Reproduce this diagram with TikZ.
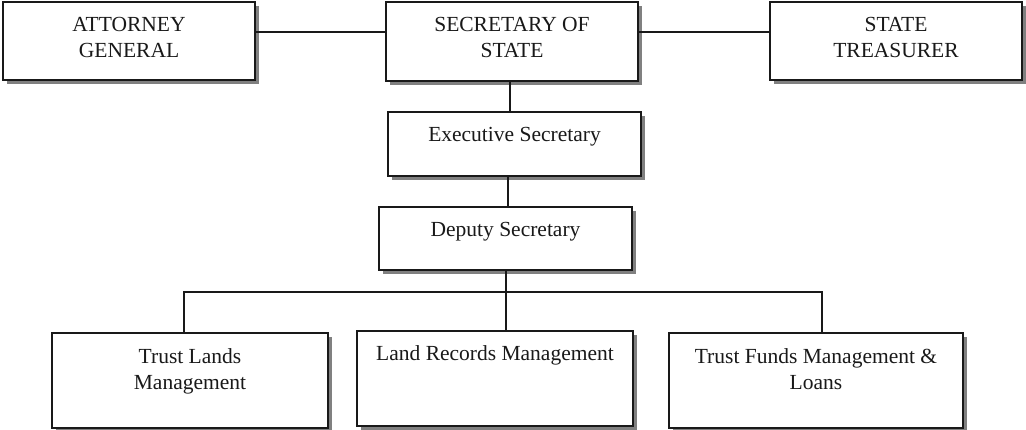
\documentclass[tikz,border=0pt]{standalone}
\usepackage{fontspec}
\setmainfont{Liberation Serif}
\usetikzlibrary{shadows,calc}
\begin{document}
\begin{tikzpicture}[x=1pt,y=-1pt,
  box/.style={draw=black!90, line width=1.7pt, fill=white, inner sep=0pt,
    drop shadow={shadow xshift=3.5pt, shadow yshift=-3.5pt, fill=black!50, opacity=1}},
  lbl/.style={anchor=north, inner sep=0pt, align=center, text=black!90,
    font=\fontsize{21.5}{26}\selectfont, yshift=-16pt},
  link/.style={draw=black!90, line width=1.6pt}]
\useasboundingbox (0,0) rectangle (1026,429);
% top row
\node[box, minimum width=252pt, minimum height=78pt] (ag) at (129,41) {};
\node[box, minimum width=252pt, minimum height=79pt] (sos) at (512,41.5) {};
\node[box, minimum width=252pt, minimum height=78pt] (st) at (896,41) {};
\node[lbl] (agt) at (ag.north) {ATTORNEY\\GENERAL};
\node[lbl] (sost) at (sos.north) {SECRETARY OF\\STATE};
\node[lbl] (stt) at (st.north) {STATE\\TREASURER};
% middle
\node[box, minimum width=253pt, minimum height=64pt] (exec) at (514.5,144) {};
\node[lbl] (exect) at (exec.north) {Executive Secretary};
\node[box, minimum width=253pt, minimum height=63pt] (dep) at (505.5,238.5) {};
\node[lbl] (dept) at (dep.north) {Deputy Secretary};
% bottom
\node[box, minimum width=276pt, minimum height=95pt] (tlm) at (190,380.5) {};
\node[lbl] (tlmt) at (tlm.north) {Trust Lands\\Management};
\node[box, minimum width=276pt, minimum height=95pt] (lrm) at (495,378.5) {};
\node[lbl, yshift=1pt] (lrmt) at (lrm.north) {Land Records Management};
\node[box, minimum width=294pt, minimum height=95pt] (tfm) at (816,380.5) {};
\node[lbl] (tfmt) at (tfm.north) {Trust Funds Management \&\\Loans};
% connectors
\draw[link] ([yshift=-31pt]ag.north east) -- ([yshift=-31pt]sos.north west);
\draw[link] ([yshift=-31pt]sos.north east) -- ([yshift=-31pt]st.north west);
\draw[link] ([xshift=-2pt]sos.south) -- ([xshift=-2pt]sos.south |- exec.north);
\draw[link] ([xshift=-6.5pt]exec.south) -- ([xshift=-6.5pt]exec.south |- dep.north);
\coordinate (bar) at ([xshift=0.5pt]dep.south |- 0,292);
\draw[link] ([xshift=0.5pt]dep.south) -- ([xshift=0.5pt]dep.south |- lrm.north);
\draw[link] ([xshift=-6pt]tlm.north) |- (bar) -| ([xshift=6pt]tfm.north);
\end{tikzpicture}
\end{document}
